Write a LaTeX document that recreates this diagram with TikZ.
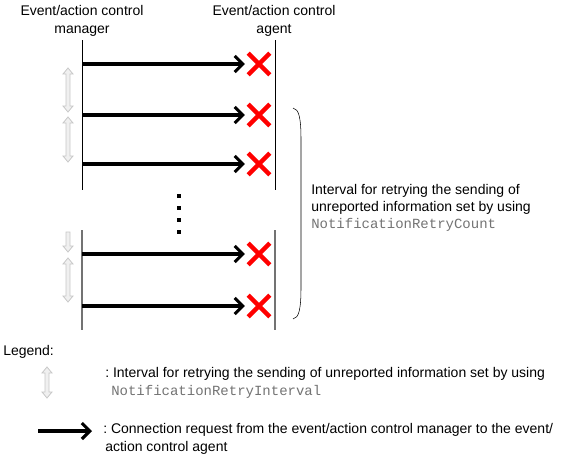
\documentclass[tikz,border=0pt]{standalone}
\usepackage{fontspec}
\setmainfont{Liberation Sans}
\setmonofont{Liberation Mono}
\usetikzlibrary{arrows.meta,shapes.misc}
\tikzset{
  request/.style={line width=2.3pt,-{Straight Barb[length=6pt,width=12pt]}},
  failed/.style={draw=red,cross out,line width=3.2pt,minimum size=13pt,inner sep=0pt},
  retry/.style={draw=black!22,fill=black!6,line width=0.6pt},
  label/.style={font=\fontsize{10.5}{13}\selectfont\frenchspacing,inner sep=0pt}
}
\newcommand{\retryboth}[3]{\draw[retry] (#1,#2) -- ({#1+5},{#2+6}) -- ({#1+2},{#2+6}) -- ({#1+2},{#3-6}) -- ({#1+5},{#3-6}) -- (#1,#3) -- ({#1-5},{#3-6}) -- ({#1-2},{#3-6}) -- ({#1-2},{#2+6}) -- ({#1-5},{#2+6}) -- cycle;}
\newcommand{\retrydown}[3]{\draw[retry] ({#1-2},#2) -- ({#1+2},#2) -- ({#1+2},{#3-6}) -- ({#1+5},{#3-6}) -- (#1,#3) -- ({#1-5},{#3-6}) -- ({#1-2},{#3-6}) -- cycle;}
\begin{document}
\begin{tikzpicture}[x=0.75pt,y=-0.75pt]
\useasboundingbox (0,0) rectangle (563,461);
\node[label,align=center] (mgr) at (82,21) {Event/action control\\manager};
\node[label,align=center] (agt) at (274,21) {Event/action control\\agent};
\draw[line width=0.75pt] (82,40) -- (82,190);
\draw[line width=1.1pt,black!55] (82,230) -- (82,330);
\draw[line width=0.75pt] (275,40) -- (275,190);
\draw[line width=1.1pt,black!55] (275,230) -- (275,330);
\foreach \y [count=\i] in {64,115,164,254,306} {
  \coordinate (m\i) at (82,\y);
  \node[failed] (x\i) at (259,\y) {};
  \draw[request] (m\i) -- ([xshift=-2.5pt]x\i.west);
}
\retryboth{68}{68}{112}
\retryboth{68}{117}{162}
\retrydown{68}{232}{252}
\retryboth{68}{258}{302}
\foreach \y in {196,208,220,232}
\fill (177,{\y-2}) rectangle (181,{\y+2});
\draw (293,108) .. controls (299,109) and (301,118) .. (301,140) -- (301,287) .. controls (301,309) and (299,318) .. (293,319);
\node[label,anchor=west,align=left] (count) at (311,208) {Interval for retrying the sending of\\unreported information set by using\\{\ttfamily\color{black!55}NotificationRetryCount}};
\node[label,anchor=west] (legend) at (3,352) {Legend:};
\retryboth{47}{367}{398}
\node[label,anchor=west,align=left] (interval) at (105,383) {: Interval for retrying the sending of unreported information set by using\\\hspace*{4.5pt}{\ttfamily\color{black!55}NotificationRetryInterval}};
\coordinate (lgA) at (38,431);
\coordinate (lgB) at (92,431);
\draw[request] (lgA) -- (lgB);
\node[label,anchor=west,align=left] (conn) at (103,439) {: Connection request from the event/action control manager to the event/\\\hspace*{1.5pt}action control agent};
\end{tikzpicture}
\end{document}
